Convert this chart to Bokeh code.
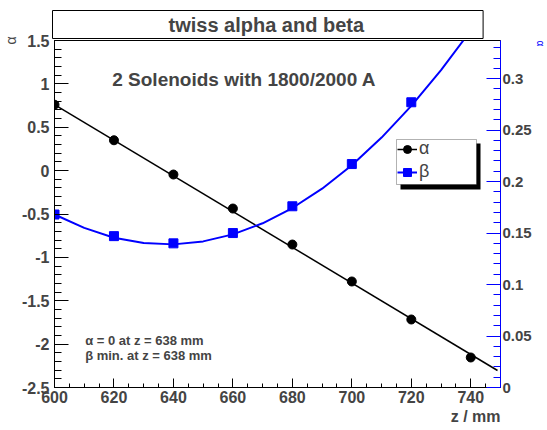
import math
from bokeh.plotting import figure
from bokeh.models import (Range1d, LinearAxis, Label, BoxAnnotation, Legend, Title,
                          LegendItem, SingleIntervalTicker, CustomJSTickFormatter)
from bokeh.embed import file_html
from bokeh.resources import INLINE

# ---- data ----
z_points = [600, 620, 640, 660, 680, 700, 720, 740]
alpha_points = [0.76, 0.35, -0.045, -0.437, -0.852, -1.278, -1.716, -2.154]

z_beta = [600, 620, 640, 660, 680, 700, 720]
beta_points = [0.168, 0.147, 0.140, 0.150, 0.176, 0.217, 0.277]

# fitted curves as drawn in the reference
alpha_fit_z = [600, 749]
alpha_fit = [0.762, -2.304]
beta_fit_z = [600, 610, 620, 630, 640, 650, 660, 670, 680, 690, 700, 710, 720, 730, 737.5]
beta_fit = [0.168, 0.155, 0.1455, 0.1403, 0.139, 0.1419, 0.1487, 0.1595, 0.1743,
            0.1931, 0.2159, 0.2427, 0.2735, 0.3083, 0.337]

beta_max = 0.337

title_text = "twiss alpha and beta"
info_text = "2 Solenoids  with 1800/2000 A"
note1 = "\u03b1 = 0  at z = 638 mm"
note2 = "\u03b2 min.  at z = 638 mm"
legend_labels = ["\u03b1", "\u03b2"]
left_title = "\u03b1"
right_title = "\u03b1"
x_title = "z / mm"

FONT = "Liberation Sans"
BLUE = "#0000ff"

p = figure(width=547, height=430, x_range=Range1d(600, 750), y_range=Range1d(-2.5, 1.5),
           output_backend="svg", toolbar_location=None,
           min_border_left=54, min_border_right=42, min_border_top=40, min_border_bottom=43)
p.extra_y_ranges = {"beta": Range1d(0, beta_max)}
p.xgrid.visible = False
p.ygrid.visible = False
p.outline_line_color = "black"
p.outline_line_width = 1
p.background_fill_color = "white"
p.border_fill_color = "white"

fmt = CustomJSTickFormatter(code="return Number(tick.toFixed(3)).toString();")

# main title (box drawn by the title itself)
p.add_layout(Title(text=title_text, align="left", offset=-2, standoff=4,
                   text_font=FONT, text_font_style="bold", text_font_size="20px",
                   border_line_color="black", border_line_width=1,
                   background_fill_color="white",
                   padding=dict(left=116, right=119, top=3, bottom=3)), "above")

# x axis
xa = p.xaxis[0]
xa.ticker = SingleIntervalTicker(interval=20, num_minor_ticks=4)
xa.major_tick_in = 9
xa.major_tick_out = 0
xa.minor_tick_in = 4
xa.minor_tick_out = 0
xa.major_label_standoff = 3
xa.major_label_text_font = FONT
xa.major_label_text_font_style = "bold"
xa.major_label_text_font_size = "16px"
xa.axis_line_color = "black"

# left axis
ya = p.yaxis[0]
ya.ticker = SingleIntervalTicker(interval=0.5, num_minor_ticks=5)
ya.formatter = fmt
ya.major_tick_in = 14
ya.major_tick_out = 0
ya.minor_tick_in = 7
ya.minor_tick_out = 0
ya.major_label_standoff = 5
ya.major_label_text_font = FONT
ya.major_label_text_font_style = "bold"
ya.major_label_text_font_size = "16px"

# right axis (beta)
ra = LinearAxis(y_range_name="beta")
ra.ticker = SingleIntervalTicker(interval=0.05, num_minor_ticks=5)
ra.formatter = fmt
ra.axis_line_color = BLUE
ra.major_tick_line_color = BLUE
ra.minor_tick_line_color = BLUE
ra.major_tick_in = 14
ra.major_tick_out = 0
ra.minor_tick_in = 7
ra.minor_tick_out = 0
ra.major_label_standoff = 2
ra.major_label_text_font = FONT
ra.major_label_text_font_style = "bold"
ra.major_label_text_font_size = "15px"
p.add_layout(ra, "right")

# axis titles
p.add_layout(Title(text=left_title, align="right", standoff=0, offset=-4,
                   text_font=FONT, text_font_size="14px", text_font_style="normal"), "left")
p.add_layout(Title(text=right_title, align="left", standoff=0, offset=0,
                   text_font=FONT, text_font_size="10px", text_font_style="normal",
                   text_color=BLUE), "right")
p.add_layout(Title(text=x_title, align="right", standoff=0, offset=0,
                   text_font=FONT, text_font_size="16px", text_font_style="bold"), "below")

# glyphs
la = p.line(alpha_fit_z, alpha_fit, line_color="black", line_width=1.5)
sa = p.scatter(z_points, alpha_points, marker="circle", size=9, fill_color="black", line_color="black")
lb = p.line(beta_fit_z, beta_fit, line_color=BLUE, line_width=2, y_range_name="beta")
sb = p.scatter(z_beta, beta_points, marker="square", size=9, fill_color=BLUE, line_color=BLUE,
               y_range_name="beta")

# legend box with shadow
p.add_layout(BoxAnnotation(left=346, right=426, top=244, bottom=198,
                           left_units="screen", right_units="screen",
                           top_units="screen", bottom_units="screen",
                           fill_color="black", fill_alpha=1, line_alpha=0))
p.add_layout(BoxAnnotation(left=342, right=422, top=248, bottom=203,
                           left_units="screen", right_units="screen",
                           top_units="screen", bottom_units="screen",
                           fill_color="white", fill_alpha=1, line_color="black", line_width=1))
legend = Legend(items=[LegendItem(label=legend_labels[0], renderers=[la, sa]),
                       LegendItem(label=legend_labels[1], renderers=[lb, sb])],
                location=(342, 204), background_fill_alpha=0, border_line_alpha=0,
                padding=1, spacing=2, margin=0, label_height=20, glyph_height=20,
                glyph_width=20, label_standoff=2, label_text_font=FONT,
                label_text_font_size="18px")
p.add_layout(legend)

# texts
p.add_layout(Label(x=664.7, y=1.05, text=info_text, text_font=FONT, text_font_style="bold",
                   text_font_size="19px", text_align="center", text_baseline="middle"))
p.add_layout(Label(x=610.3, y=-1.96, text=note1, text_font=FONT, text_font_style="bold",
                   text_font_size="13px", text_align="left", text_baseline="middle"))
p.add_layout(Label(x=610.3, y=-2.135, text=note2, text_font=FONT, text_font_style="bold",
                   text_font_size="13px", text_align="left", text_baseline="middle"))

open("out.html", "w").write(file_html(p, INLINE))
